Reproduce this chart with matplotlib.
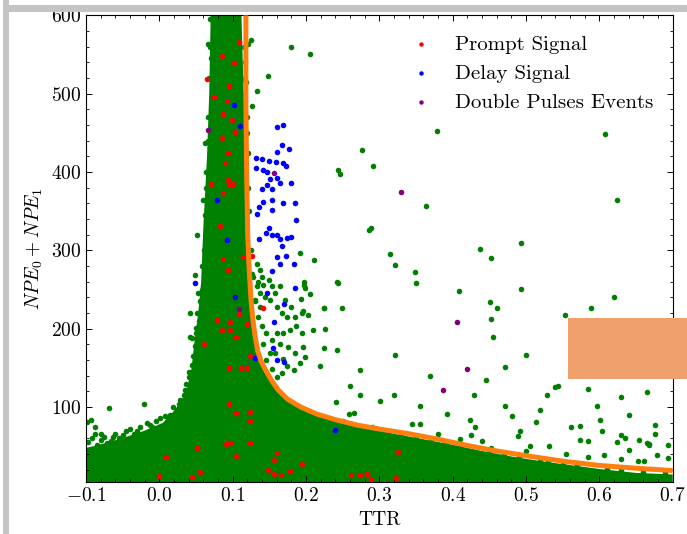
import matplotlib
matplotlib.use("Agg")
from matplotlib import pyplot as plt
from matplotlib.patches import Rectangle

plt.rcParams['font.family'] = 'serif'
plt.rcParams['font.serif'] = ['cmr10']
plt.rcParams['mathtext.fontset'] = 'cm'
plt.rcParams['axes.formatter.use_mathtext'] = True
plt.rcParams['font.size'] = 14

# dense body of the green cloud (outline)
core_x = [-0.1, -0.1, -0.09, -0.07, -0.045, -0.02, 0.005, 0.02, 0.03, 0.038, 0.044, 0.048,
          0.053, 0.057, 0.060, 0.065, 0.068, 0.070, 0.112, 0.115, 0.118, 0.120, 0.124, 0.128,
          0.136, 0.148, 0.160, 0.180, 0.200, 0.240, 0.280, 0.320, 0.360, 0.400, 0.440, 0.480,
          0.520, 0.560, 0.600, 0.650, 0.700, 0.700]
core_y = [4, 48, 50, 55, 62, 70, 80, 95, 108, 125, 150, 185,
          220, 260, 330, 420, 500, 600, 600, 500, 420, 320, 250, 200,
          165, 142, 122, 106, 96, 83, 74, 66, 59, 52, 44, 37,
          31, 26, 21, 16, 14, 4]

# scattered green events outside the dense body
green_x = [0.180, 0.206, 0.148, 0.133, 0.126, 0.121,
           0.378, 0.607, 0.276, 0.292, 0.243, 0.247, 0.364, 0.624, 0.286, 0.289, 0.437, 0.493,
           0.452, 0.192, 0.211, 0.314, 0.321, 0.349, 0.350, 0.197, 0.197, 0.198, 0.244, 0.206,
           0.193, 0.408, 0.493, 0.620, 0.451, 0.460, 0.589, 0.553, 0.196, 0.195, 0.203, 0.224,
           0.249, 0.452,
           0.540, 0.585, 0.630, 0.665,
           0.455, 0.471, 0.500, 0.529, 0.274, 0.321, 0.369, 0.429, 0.471, 0.519, 0.601, 0.676,
           0.635, 0.574, 0.492, 0.424, 0.355, 0.301, 0.260, 0.219,
           0.445, 0.543, 0.597, 0.641, 0.676, 0.667, 0.629, 0.603, 0.585, 0.561, 0.573, 0.513,
           0.481, 0.430, 0.392, 0.356, 0.320, 0.274, 0.259, 0.241, 0.380, 0.410, 0.452, 0.500,
           0.531, 0.555, 0.652, 0.694, 0.489, 0.519, 0.440, 0.350,
           0.624, 0.606, 0.630, 0.640, 0.654, 0.665, 0.667, 0.661, 0.678, 0.694,
           -0.068, -0.021, -0.093, -0.088, -0.079, -0.063, -0.045, -0.026, -0.013, 0.001, 0.015,
           0.024, 0.028, 0.035, 0.040, 0.044, 0.042, 0.050, 0.051, 0.042, 0.060, 0.053, -0.099,
           -0.088,
           0.051, 0.049, 0.053, 0.044, 0.062, 0.060, 0.067, 0.071,
           0.069, 0.067, 0.070, 0.125, 0.121, 0.114, 0.118, 0.112, 0.074, 0.071,
           0.133, 0.137, 0.140, 0.135, 0.142, 0.149, 0.153, 0.137, 0.144, 0.151, 0.158, 0.165,
           0.171, 0.160, 0.167, 0.174, 0.180, 0.185, 0.187, 0.178, 0.169, 0.160, 0.153, 0.165,
           0.176, 0.185, 0.194, 0.196, 0.199, 0.192, 0.183, 0.174, 0.167, 0.160, 0.153, 0.146,
           0.141, 0.146, 0.151, 0.158, 0.169, 0.142, 0.146, 0.140, 0.134, 0.137, 0.131, 0.133,
           0.128, 0.224, 0.242, 0.224, 0.242, 0.226, 0.210,
           0.215, 0.250, 0.290, 0.330, 0.370, 0.410, 0.450, 0.490, 0.530, 0.570, 0.610, 0.660,
           0.230, 0.310, 0.390, 0.470, 0.550, 0.630, 0.690, 0.585, 0.505, 0.425, 0.345, 0.265,
           -0.097, -0.092, -0.085, -0.080, -0.075, -0.072, -0.066, -0.060, -0.055, -0.050,
           -0.040, -0.035, -0.030, -0.017, -0.010, -0.005, 0.008, 0.012, 0.018, 0.022, 0.027,
           0.033, 0.036, 0.041, 0.046, 0.049, 0.050, 0.054, 0.055, 0.058, 0.058, 0.061, 0.062,
           0.063, 0.064, 0.066, 0.067, 0.068, 0.069,
           0.116, 0.117, 0.119, 0.120, 0.121, 0.122, 0.125, 0.127, 0.130]
green_y = [560, 551, 522, 504, 484, 424,
           452, 448, 428, 408, 402, 398, 357, 364, 326, 328, 302, 310,
           290, 297, 288, 295, 281, 272, 258, 260, 256, 252, 259, 244,
           238, 248, 251, 240, 234, 227, 226, 217, 222, 220, 217, 226,
           227, 212,
           126, 123, 113, 119,
           190, 151, 166, 115, 147, 166, 140, 115, 102, 96, 83, 77,
           61, 58, 70, 83, 102, 108, 127, 153,
           134, 127, 102, 90, 66, 53, 64, 70, 57, 74, 76, 81,
           88, 74, 91, 78, 115, 115, 91, 106, 66, 59, 48, 44,
           50, 40, 31, 35, 63, 31, 57, 61,
           56, 39, 34, 45, 58, 54, 51, 31, 39, 51,
           99, 104, 84, 75, 66, 62, 69, 75, 77, 86, 90,
           96, 109, 122, 139, 154, 190, 201, 220, 220, 237, 173, 81,
           66,
           320, 269, 245, 188, 437, 364, 347, 420,
           595, 564, 545, 569, 564, 519, 515, 500, 477, 471,
           283, 275, 266, 260, 256, 262, 254, 245, 241, 237, 245, 254,
           237, 228, 220, 215, 228, 215, 203, 198, 194, 194, 186, 181,
           177, 169, 194, 177, 164, 156, 147, 152, 143, 139, 149, 145,
           139, 160, 169, 169, 162, 181, 194, 203, 215, 228, 237, 254,
           266, 226, 260, 175, 173, 200, 198,
           90, 82, 74, 66, 59, 52, 44, 37, 31, 26, 21, 17,
           86, 70, 56, 40, 28, 20, 16, 36, 50, 64, 79, 92,
           55, 60, 52, 58, 62, 54, 57, 66, 60, 64,
           72, 66, 70, 80, 74, 82, 88, 84, 100, 92, 104,
           116, 130, 145, 165, 178, 195, 210, 235, 250, 280, 300, 345,
           380, 400, 440, 470, 520, 560,
           560, 540, 470, 450, 380, 350, 300, 270, 235]

prompt_x = [0.108, 0.086, 0.102, 0.0645, 0.074, 0.095, 0.092, 0.087,
            0.099, 0.103, 0.085, 0.094, 0.090, 0.071, 0.094, 0.096, 0.101, 0.087, 0.083, 0.114,
            0.126, 0.087, 0.093, 0.142, 0.109, 0.078, 0.096, 0.119, 0.085, 0.097, 0.105, 0.061,
            0.124, 0.095, 0.112, 0.120,
            0.095, 0.104, 0.123, 0.123, 0.091, 0.097, 0.051, 0.123, 0.105, 0.009, 0.055, 0.045,
            0.000, 0.160, 0.157, 0.195, 0.148, 0.157, 0.166, 0.178, 0.262, 0.274, 0.283, 0.288,
            0.323, 0.325]
prompt_y = [566, 548, 539, 519, 496, 510, 491, 474,
            466, 451, 444, 424, 411, 385, 390, 383, 385, 373, 331, 292,
            293, 289, 275, 226, 219, 211, 209, 206, 198, 199, 189, 180,
            165, 150, 150, 150,
            104, 92, 94, 82, 53, 54, 48, 54, 38, 36, 17, 11,
            12, 42, 33, 27, 20, 15, 13, 18, 13, 13, 14, 8,
            10, 43]

delay_x = [0.049, 0.078, 0.092, 0.103, 0.102, 0.110, 0.130, 0.156, 0.155, 0.160, 0.170,
           0.147, 0.170, 0.185,
           0.161, 0.168, 0.167, 0.160, 0.177, 0.132, 0.140, 0.149, 0.159, 0.169, 0.173, 0.132,
           0.141, 0.147, 0.151, 0.160, 0.147, 0.140, 0.154, 0.165, 0.180, 0.153, 0.142, 0.168,
           0.185, 0.136, 0.133, 0.154, 0.187, 0.149, 0.145, 0.153, 0.161, 0.136, 0.165, 0.174,
           0.179, 0.167, 0.161, 0.173, 0.164, 0.183, 0.154, 0.240]
delay_y = [258, 364, 313, 241, 486, 459, 163, 208, 175, 160, 157,
           246, 232, 252,
           457, 460, 435, 426, 429, 418, 416, 414, 413, 411, 408, 405,
           403, 400, 391, 393, 384, 378, 378, 386, 386, 364, 362, 360,
           360, 355, 347, 352, 339, 328, 322, 320, 320, 314, 314, 316,
           317, 305, 292, 293, 283, 283, 274, 71]

double_x = [0.067, 0.108, 0.156, 0.330, 0.406, 0.419, 0.387]
double_y = [454, 225, 399, 374, 208, 148, 122]

# orange boundary curve
fit_x = [0.118, 0.118, 0.119, 0.1205, 0.1225, 0.125, 0.1275, 0.130, 0.134, 0.139, 0.145,
         0.153, 0.162, 0.175, 0.193, 0.215, 0.240, 0.270, 0.300, 0.340, 0.380, 0.420, 0.460,
         0.500, 0.550, 0.600, 0.650, 0.700]
fit_y = [600, 490, 400, 320, 275, 237, 212, 194, 172, 158, 147,
         134, 122, 110, 100, 91, 84, 77, 72, 66, 59, 51, 44,
         38, 31, 25.5, 22, 19]

fig = plt.figure(figsize=(6.87, 5.34), dpi=100)
ax = fig.add_axes([0.1252, 0.0968, 0.854, 0.8745])

ms = 16
ax.fill(core_x, core_y, color='green', lw=0, zorder=1)
ax.scatter(green_x, green_y, s=ms, color='green', lw=0, zorder=2)
ax.scatter(prompt_x, prompt_y, s=ms, color='red', lw=0, zorder=3, label='Prompt Signal')
ax.scatter(delay_x, delay_y, s=ms, color='blue', lw=0, zorder=3, label='Delay Signal')
ax.scatter(double_x, double_y, s=ms, color='purple', lw=0, zorder=3, label='Double Pulses Events')
ax.plot(fit_x, fit_y, color='#ff7f0e', lw=3.6, zorder=4, solid_capstyle='butt')

ax.set_xlim(-0.1, 0.7)
ax.set_ylim(4, 600)
ax.set_xlabel('TTR')
ax.set_ylabel(r'$NPE_0 + NPE_1$')
ax.minorticks_on()
ax.xaxis.set_minor_locator(matplotlib.ticker.MultipleLocator(0.02))
ax.yaxis.set_minor_locator(matplotlib.ticker.MultipleLocator(20))
ax.tick_params(which='both', direction='in', top=True, right=True)
ax.tick_params(which='major', length=4, width=0.7)
ax.tick_params(which='minor', length=2, width=0.6)
for s in ax.spines.values():
    s.set_linewidth(0.8)

ax.legend(loc='upper right', frameon=False, fontsize=15, handletextpad=0.6,
          labelspacing=0.5, borderaxespad=0.55, scatterpoints=1, markerscale=0.8)

# grey frame of the screenshot and the orange box on the right
fig.patches.append(Rectangle((3 / 687, 0), 6 / 687, 1, transform=fig.transFigure,
                             color='#c4c4c4', lw=0, zorder=10))
fig.patches.append(Rectangle((3 / 687, 1 - 12 / 534), 1, 7 / 534, transform=fig.transFigure,
                             color='#c4c4c4', lw=0, zorder=10))
fig.patches.append(Rectangle((568 / 687, 1 - 379 / 534), 119 / 687, 61 / 534,
                             transform=fig.transFigure, color='#efa06c', lw=0, zorder=10))

fig.savefig('out.png', dpi=100)
